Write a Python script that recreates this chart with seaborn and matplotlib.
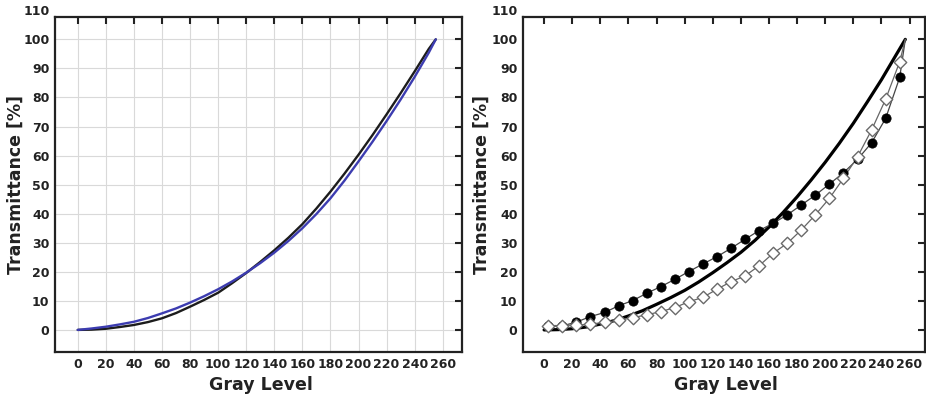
import numpy as np
import pandas as pd
import matplotlib
matplotlib.use('Agg')
import matplotlib.pyplot as plt
import seaborn as sns

sns.set_style("white")
plt.rcParams['font.family'] = ['DejaVu Sans']
plt.rcParams['font.weight'] = 'bold'

# ── Left panel: target curve (black) vs fitted curve (blue) ──
gray_left = [0, 10, 20, 30, 40, 50, 60, 70, 80, 90, 100, 110, 120, 130,
             140, 150, 160, 170, 180, 190, 200, 210, 220, 230, 240, 250, 255]
t_black = [0, 0.1, 0.4, 1.0, 1.7, 2.7, 4.0, 5.8, 8.0, 10.3, 12.8, 16.1, 19.6, 23.4,
           27.4, 31.7, 36.4, 41.8, 47.6, 53.8, 60.3, 67.1, 74.2, 81.5, 89.0, 96.7, 100]
t_blue = [0, 0.5, 1.1, 1.9, 2.8, 4.1, 5.7, 7.4, 9.4, 11.6, 14.0, 16.7, 19.7, 23.0,
          26.6, 30.6, 35.0, 39.9, 45.3, 51.4, 58.0, 64.8, 71.9, 79.3, 87.1, 95.4, 100]

# ── Right panel: reference curve + two measured series ──
gray_fit = [0, 10, 20, 30, 40, 50, 60, 70, 80, 90, 100, 110, 120, 130,
            140, 150, 160, 170, 180, 190, 200, 210, 220, 230, 240, 250, 257]
t_fit = [0, 0.1, 0.4, 1.0, 2.0, 3.2, 4.8, 6.6, 8.8, 11.1, 13.6, 16.5, 19.7, 23.1,
         26.7, 30.8, 35.4, 40.4, 45.8, 51.6, 57.7, 64.2, 71.1, 78.5, 86.1, 94.3, 100]

gray_meas = [3, 13, 23, 33, 43, 53, 63, 73, 83, 93, 103, 113, 123, 133,
             143, 153, 163, 173, 183, 193, 203, 213, 223, 233, 243, 253]
t_circle = [1.2, 1.4, 2.7, 4.6, 6.0, 8.3, 10.1, 12.6, 14.9, 17.4, 20.1, 22.7, 25.2, 28.1,
            31.2, 34.2, 36.7, 39.6, 43.0, 46.4, 50.2, 54.1, 58.7, 64.4, 72.8, 86.9]
t_diamond = [1.5, 1.5, 1.7, 2.0, 2.6, 3.3, 4.2, 5.2, 6.3, 7.7, 9.7, 11.2, 14.0, 16.6,
             18.6, 22.1, 26.4, 29.8, 34.4, 39.6, 45.3, 52.2, 59.6, 68.8, 79.4, 92.3]
end_point = (257, 100)

df_left = pd.DataFrame({'gray': gray_left, 'black': t_black, 'blue': t_blue})
df_fit = pd.DataFrame({'gray': gray_fit, 'T': t_fit})
df_meas = pd.DataFrame({'gray': gray_meas, 'circle': t_circle, 'diamond': t_diamond})
df_circ_line = pd.DataFrame({'gray': gray_meas + [end_point[0]], 'T': t_circle + [end_point[1]]})
df_diam_line = pd.DataFrame({'gray': gray_meas + [end_point[0]], 'T': t_diamond + [end_point[1]]})

W, H = 926, 401
fig = plt.figure(figsize=(W / 100, H / 100), dpi=100)
ax1 = fig.add_axes([55 / W, 1 - 352 / H, 407 / W, 335 / H])
ax2 = fig.add_axes([523 / W, 1 - 352 / H, 402 / W, 335 / H])

# left
sns.lineplot(data=df_left, x='gray', y='black', ax=ax1, color='#1c1c1c', lw=1.7, sort=False)
sns.lineplot(data=df_left, x='gray', y='blue', ax=ax1, color='#3c3cb0', lw=1.7, sort=False)
ax1.grid(True, color='#d9d9d9', linewidth=0.8)
ax1.set_axisbelow(True)

# right
sns.lineplot(data=df_fit, x='gray', y='T', ax=ax2, color='black', lw=2.3, sort=False)
sns.lineplot(data=df_circ_line, x='gray', y='T', ax=ax2, color='#444444', lw=0.9, sort=False)
sns.lineplot(data=df_diam_line, x='gray', y='T', ax=ax2, color='#666666', lw=0.9, sort=False)
sns.scatterplot(data=df_meas, x='gray', y='circle', ax=ax2, marker='o', s=45,
                color='black', edgecolor='black', linewidth=0.5, zorder=3)
sns.scatterplot(data=df_meas, x='gray', y='diamond', ax=ax2, marker='D', s=40,
                color='white', edgecolor='#6a6a6a', linewidth=1.0, zorder=4)
ax2.grid(False)

xlims = [(-16.2, 273.7), (-15, 271)]
ylab_x = [-0.074, -0.08]
for ax, xl, yx in zip([ax1, ax2], xlims, ylab_x):
    ax.set_xlim(*xl)
    ax.set_ylim(-7.6, 107.7)
    ax.set_xticks(np.arange(0, 261, 20))
    ax.set_yticks(np.arange(0, 101, 10))
    ax.tick_params(direction='in', length=5, width=1.5, top=True, right=True,
                   labelsize=9, pad=4, colors='#222222')
    for s in ax.spines.values():
        s.set_linewidth(1.6)
        s.set_color('#222222')
    ax.text(-0.012, 109.6, '110', transform=ax.get_yaxis_transform(), ha='right',
            va='center', fontsize=9, color='#222222', clip_on=False)
    ax.set_xlabel('Gray Level', fontsize=12.5, fontweight='bold', color='#222222')
    ax.set_ylabel('Transmittance [%]', fontsize=12.5, fontweight='bold', color='#222222')
    ax.xaxis.set_label_coords(0.505, -0.072)
    ax.yaxis.set_label_coords(yx, 0.5)

fig.savefig('out.png', dpi=100)
